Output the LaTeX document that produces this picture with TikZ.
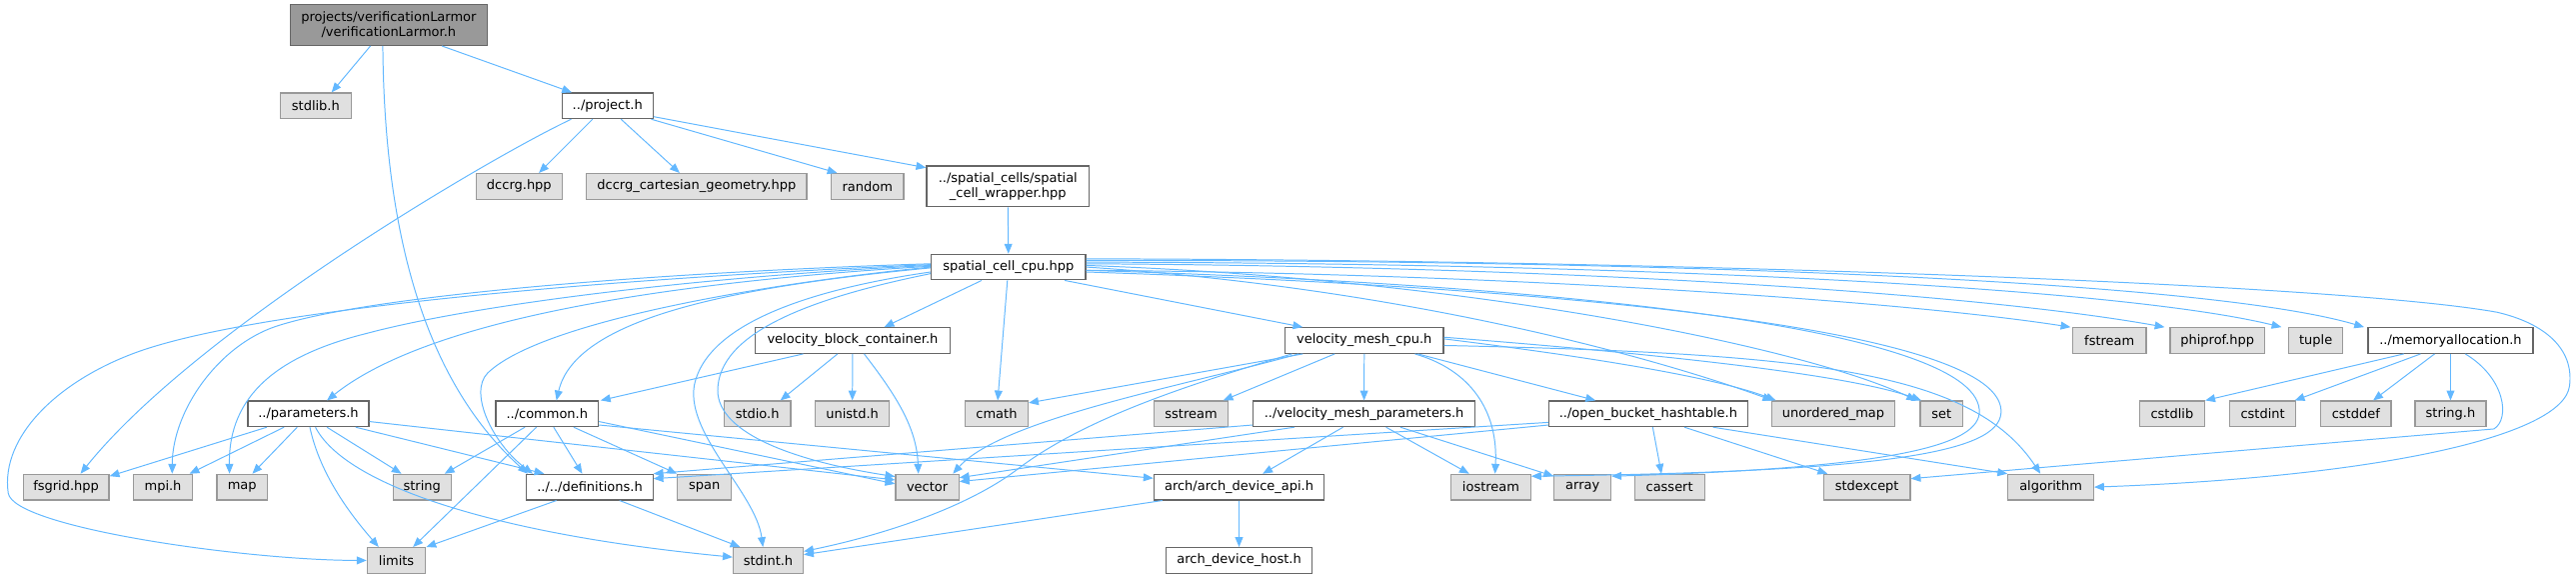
\documentclass[tikz,border=0pt]{standalone}
\usepackage{fontspec}
\setmainfont{DejaVu Sans}
\usetikzlibrary{arrows.meta}
\definecolor{edgec}{HTML}{63B8FF}
\definecolor{gfill}{HTML}{E0E0E0}
\definecolor{gdraw}{HTML}{999999}
\definecolor{wdraw}{HTML}{666666}
\definecolor{mfill}{HTML}{999999}
\tikzset{
  base/.style={rectangle, inner sep=0pt, line width=0.7pt, minimum height=15.6pt,
    font=\fontsize{7.9}{9.1}\selectfont, align=center},
  gn/.style={base, draw=gdraw, fill=gfill},
  wn/.style={base, draw=wdraw, fill=white},
  mn/.style={base, draw=wdraw, fill=mfill},
  two/.style={minimum height=24.8pt},
  edg/.style={draw=edgec, line width=0.6pt, -{Triangle[length=6pt,width=4.8pt]}, fill=none},
}
\begin{document}
\begin{tikzpicture}[x=1pt,y=1pt]
\useasboundingbox (0,0) rectangle (1568,-352);
% row 0
\node[mn, two, minimum width=120pt] (main) at (236.6,-15.2) {projects/verificationLarmor\\/verificationLarmor.h};
% row 1
\node[gn, minimum width=43.4pt] (stdlib) at (192.2,-64.4) {stdlib.h};
\node[wn, minimum width=55.5pt] (project) at (369.8,-64.4) {../project.h};
% row 2
\node[gn, minimum width=52pt] (dccrg) at (316,-113.4) {dccrg.hpp};
\node[gn, minimum width=134pt] (dccrgcart) at (424,-113.4) {dccrg\_cartesian\_geometry.hpp};
\node[gn, minimum width=44pt] (random) at (528,-113.4) {random};
\node[wn, two, minimum width=99pt] (wrapper) at (613.5,-113.4) {../spatial\_cells/spatial\\\_cell\_wrapper.hpp};
% row 3
\node[wn, minimum width=94pt] (scpu) at (613.8,-162.5) {spatial\_cell\_cpu.hpp};
% row 4
\node[wn, minimum width=118.7pt] (vbc) at (519,-207.2) {velocity\_block\_container.h};
\node[wn, minimum width=96.4pt] (vmcpu) at (830.4,-207.2) {velocity\_mesh\_cpu.h};
\node[gn, minimum width=44.6pt] (fstream) at (1284,-207.2) {fstream};
\node[gn, minimum width=57.5pt] (phiprof) at (1349.7,-207.2) {phiprof.hpp};
\node[gn, minimum width=33pt] (tuple) at (1409.6,-207.2) {tuple};
\node[wn, minimum width=100.4pt] (memalloc) at (1491.6,-207.2) {../memoryallocation.h};
% row 5
\node[wn, minimum width=73.6pt] (params) at (187.7,-251.8) {../parameters.h};
\node[wn, minimum width=62.5pt] (common) at (333,-251.8) {../common.h};
\node[gn, minimum width=40.5pt] (stdio) at (461,-251.8) {stdio.h};
\node[gn, minimum width=45.1pt] (unistd) at (518.8,-251.8) {unistd.h};
\node[gn, minimum width=38.4pt] (cmath) at (606.6,-251.8) {cmath};
\node[gn, minimum width=45.4pt] (sstream) at (725,-251.8) {sstream};
\node[wn, minimum width=135.1pt] (vmparams) at (830.3,-251.8) {../velocity\_mesh\_parameters.h};
\node[wn, minimum width=120.8pt] (obh) at (1003.3,-251.8) {../open\_bucket\_hashtable.h};
\node[gn, minimum width=75.2pt] (umap) at (1115.9,-251.8) {unordered\_map};
\node[gn, minimum width=25.9pt] (set) at (1181.8,-251.8) {set};
\node[gn, minimum width=39.8pt] (cstdlib) at (1322.1,-251.8) {cstdlib};
\node[gn, minimum width=40.5pt] (cstdint) at (1377.3,-251.8) {cstdint};
\node[gn, minimum width=42.9pt] (cstddef) at (1434,-251.8) {cstddef};
\node[gn, minimum width=43.2pt] (stringh) at (1491.6,-251.8) {string.h};
% row 6
\node[gn, minimum width=52.3pt] (fsgrid) at (40.2,-296.4) {fsgrid.hpp};
\node[gn, minimum width=35.6pt] (mpi) at (99.2,-296.4) {mpi.h};
\node[gn, minimum width=30.7pt] (map) at (147.4,-296.4) {map};
\node[gn, minimum width=35.3pt] (string) at (256.9,-296.4) {string};
\node[wn, minimum width=76.8pt] (defs) at (359,-296.4) {../../definitions.h};
\node[gn, minimum width=32.8pt] (span) at (428.8,-296.4) {span};
\node[gn, minimum width=38.5pt] (vector) at (564.4,-296.4) {vector};
\node[wn, minimum width=103.7pt] (archapi) at (754.2,-296.4) {arch/arch\_device\_api.h};
\node[gn, minimum width=48.5pt] (iostream) at (907.5,-296.4) {iostream};
\node[gn, minimum width=34.6pt] (array) at (963.3,-296.4) {array};
\node[gn, minimum width=42.6pt] (cassert) at (1016.2,-296.4) {cassert};
\node[gn, minimum width=52.7pt] (stdexcept) at (1136.4,-296.4) {stdexcept};
\node[gn, minimum width=52.1pt] (algorithm) at (1248.3,-296.4) {algorithm};
% row 7
\node[gn, minimum width=35.6pt] (limits) at (241.3,-341) {limits};
\node[gn, minimum width=42.6pt] (stdint) at (467.6,-341) {stdint.h};
\node[wn, minimum width=89.1pt] (archhost) at (754.2,-341) {arch\_device\_host.h};

% main
\draw[edg] ([xshift=-11.1pt]main.south) -- ([xshift=9.6pt]stdlib.north);
\draw[edg] ([xshift=32.3pt]main.south) -- ([xshift=-21.7pt]project.north);
\draw[edg] ([xshift=-3.6pt]main.south) .. controls (234,-150) and (262,-235) .. ([xshift=1pt]defs.north west);
% project
\draw[edg] ([xshift=6pt]project.south west) .. controls (300,-95) and (120,-200) .. ([xshift=8.8pt]fsgrid.north);
\draw[edg] ([xshift=-9.1pt]project.south) -- ([xshift=12pt]dccrg.north);
\draw[edg] ([xshift=8.2pt]project.south) -- ([xshift=-10.3pt]dccrgcart.north);
\draw[edg] ([xshift=-1.5pt]project.south east) -- ([xshift=-18.4pt]random.north);
\draw[edg] ([yshift=-6.6pt]project.east) -- ([yshift=-1.4pt]wrapper.north west);
\draw[edg] (wrapper.south) -- (scpu.north);
% spatial_cell_cpu, left side
\draw[edg] ([yshift=1.5pt]scpu.west) .. controls (400,-168) and (170,-185) .. (87,-213) .. controls (37,-230) and (0,-265) .. (5,-300) .. controls (8,-321) and (150,-341) .. (limits.west);
\draw[edg] ([yshift=2pt]scpu.west) .. controls (420,-165) and (230,-178) .. (167.6,-198.7) .. controls (132.6,-210.7) and (105,-250) .. ([xshift=5.6pt]mpi.north);
\draw[edg] ([yshift=1pt]scpu.west) .. controls (430,-168) and (290,-185) .. (223.5,-202.8) .. controls (170,-216) and (139,-240) .. ([xshift=-7.7pt]map.north);
\draw[edg] ([yshift=0.5pt]scpu.west) .. controls (400,-172) and (260,-195) .. ([xshift=11.3pt]params.north);
\draw[edg] (scpu.west) .. controls (470,-172) and (330,-195) .. (296.8,-227) .. controls (285,-239) and (300,-270) .. ([xshift=4pt]defs.north west);
\draw[edg] ([yshift=-0.5pt]scpu.west) .. controls (440,-175) and (350,-195) .. ([xshift=5.7pt]common.north);
\draw[edg] ([yshift=-3pt]scpu.west) .. controls (500,-175) and (430,-195) .. (422.5,-235) .. controls (418,-265) and (460,-300) .. ([xshift=-3.2pt]stdint.north);
\draw[edg] ([yshift=-4pt]scpu.west) .. controls (500,-180) and (440,-200) .. (437,-235) .. controls (434,-262) and (480,-280) .. ([yshift=6.4pt]vector.west);
% spatial_cell_cpu, right side
\draw[edg] ([yshift=-2pt]scpu.east) .. controls (900,-166) and (1150,-182) .. ([xshift=-1pt]fstream.north west);
\draw[edg] ([yshift=2pt]scpu.east) .. controls (950,-162) and (1200,-178) .. ([xshift=-3pt]phiprof.north west);
\draw[edg] ([yshift=3pt]scpu.east) .. controls (1000,-160) and (1290,-175) .. ([xshift=-4pt]tuple.north west);
\draw[edg] ([yshift=4pt]scpu.east) .. controls (1000,-158) and (1340,-170) .. ([xshift=-2pt]memalloc.north west);
\draw[edg] ([yshift=5pt]scpu.east) .. controls (1000,-158) and (1420,-172) .. (1520,-190) .. controls (1550,-197) and (1567,-213) .. (1564,-235) .. controls (1560,-265) and (1450,-290) .. (algorithm.east);
\draw[edg] (scpu.east) .. controls (850,-175) and (1000,-215) .. ([xshift=1pt]umap.north west);
\draw[edg] ([yshift=1pt]scpu.east) .. controls (900,-170) and (1100,-212) .. ([xshift=-2pt]set.north west);
\draw[edg] ([yshift=-3pt]scpu.east) .. controls (950,-175) and (1222,-200) .. (1218,-251.4) .. controls (1216,-275) and (1150,-287) .. ([yshift=-1.5pt]iostream.north east);
\draw[edg] ([yshift=-2pt]scpu.east) .. controls (950,-173) and (1208,-200) .. (1204.8,-251.4) .. controls (1203,-273) and (1140,-285) .. ([yshift=-1.5pt]array.north east);
\draw[edg] ([xshift=-16.3pt]scpu.south) -- ([xshift=19.2pt]vbc.north);
\draw[edg] ([xshift=-0.6pt]scpu.south) -- ([xshift=0.7pt]cmath.north);
\draw[edg] ([xshift=34.3pt]scpu.south) -- ([xshift=-37.4pt]vmcpu.north);
% velocity_mesh_cpu
\draw[edg] ([xshift=-37.4pt]vmcpu.south) -- ([yshift=-1.5pt]cmath.north east);
\draw[edg] ([xshift=-40pt]vmcpu.south) .. controls (720,-235) and (610,-255) .. ([xshift=15.6pt]vector.north);
\draw[edg] ([xshift=-44pt]vmcpu.south) .. controls (720,-235) and (660,-255) .. (620,-285) .. controls (590,-308) and (540,-325) .. ([yshift=5.5pt]stdint.east);
\draw[edg] ([xshift=-18pt]vmcpu.south) -- ([xshift=-3.5pt]sstream.north east);
\draw[edg] (vmcpu.south) -- (vmparams.north);
\draw[edg] ([xshift=30.8pt]vmcpu.south) .. controls (895,-225) and (912,-250) .. ([xshift=2.5pt]iostream.north);
\draw[edg] ([xshift=32.6pt]vmcpu.south) -- ([xshift=-32.1pt]obh.north);
\draw[edg] ([yshift=1pt]vmcpu.east) .. controls (950,-215) and (1040,-228) .. ([xshift=3pt]umap.north west);
\draw[edg] ([yshift=2pt]vmcpu.east) .. controls (980,-213) and (1120,-226) .. ([xshift=1pt]set.north west);
\draw[edg] ([yshift=-3pt]vmcpu.east) .. controls (1100,-215) and (1200,-225) .. ([xshift=-6.3pt]algorithm.north);
% velocity_block_container
\draw[edg] ([xshift=-30.1pt]vbc.south) -- ([xshift=1pt]common.north east);
\draw[edg] ([xshift=-9.2pt]vbc.south) -- ([xshift=14pt]stdio.north);
\draw[edg] (vbc.south) -- (unistd.north);
\draw[edg] ([xshift=7pt]vbc.south) .. controls (545,-240) and (558,-260) .. ([xshift=-5.4pt]vector.north);
% parameters
\draw[edg] ([xshift=-25.3pt]params.south) -- ([yshift=-1.5pt]fsgrid.north east);
\draw[edg] ([xshift=-14.8pt]params.south) -- ([xshift=-2pt]mpi.north east);
\draw[edg] ([xshift=-6.8pt]params.south) -- ([xshift=6.2pt]map.north);
\draw[edg] ([xshift=0.9pt]params.south) .. controls (195,-290) and (215,-315) .. ([xshift=-10.8pt]limits.north);
\draw[edg] ([xshift=4.3pt]params.south) .. controls (210,-295) and (300,-325) .. ([yshift=2pt]stdint.west);
\draw[edg] ([xshift=11.3pt]params.south) -- ([xshift=-12.5pt]string.north);
\draw[edg] ([xshift=28.8pt]params.south) -- ([xshift=11pt]defs.north west);
\draw[edg] ([yshift=-4.7pt]params.east) -- ([yshift=4.4pt]vector.west);
% common
\draw[edg] ([xshift=-13.5pt]common.south) -- ([xshift=13.7pt]string.north);
\draw[edg] ([xshift=-6.5pt]common.south) -- ([xshift=10.1pt]limits.north);
\draw[edg] ([xshift=4pt]common.south) -- ([xshift=-4.6pt]defs.north);
\draw[edg] ([xshift=16.2pt]common.south) -- (span.north west);
\draw[edg] ([yshift=-4.7pt]common.east) -- ([yshift=2pt]vector.west);
\draw[edg] ([yshift=-6.8pt]common.east) -- ([yshift=5.4pt]archapi.west);
% definitions
\draw[edg] ([xshift=-20.3pt]defs.south) -- (limits.north east);
\draw[edg] ([xshift=18.1pt]defs.south) -- ([xshift=-17.1pt]stdint.north);
% velocity_mesh_parameters
\draw[edg] ([yshift=-6.8pt]vmparams.west) -- (defs.north east);
\draw[edg] ([xshift=-42.5pt]vmparams.south) -- ([yshift=-2.4pt]vector.north east);
\draw[edg] ([xshift=-12.8pt]vmparams.south) -- ([xshift=14.4pt]archapi.north);
\draw[edg] ([xshift=13.4pt]vmparams.south) -- ([xshift=-13.2pt]iostream.north);
\draw[edg] ([xshift=22.1pt]vmparams.south) -- ([yshift=-1.5pt]array.north west);
% open_bucket_hashtable
\draw[edg] ([yshift=-6.8pt]obh.west) -- ([yshift=3.4pt]vector.east);
\draw[edg] ([yshift=-5.2pt]obh.west) -- ([yshift=-3pt]defs.north east);
\draw[edg] ([xshift=2.7pt]obh.south) -- ([xshift=-4.9pt]cassert.north);
\draw[edg] ([xshift=22pt]obh.south) -- ([xshift=2.7pt]stdexcept.north west);
\draw[edg] ([xshift=39.4pt]obh.south) -- (algorithm.north west);
% arch_device_api
\draw[edg] (archapi.south) -- (archhost.north);
\draw[edg] ([xshift=-46.7pt]archapi.south) -- ([yshift=3.5pt]stdint.east);
% memoryallocation
\draw[edg] ([xshift=-28.4pt]memalloc.south) -- (cstdlib.north east);
\draw[edg] ([xshift=-18.2pt]memalloc.south) -- ([xshift=19.5pt]cstdint.north);
\draw[edg] ([xshift=-9.7pt]memalloc.south) -- ([xshift=10.5pt]cstddef.north);
\draw[edg] (memalloc.south) -- (stringh.north);
\draw[edg] ([xshift=9pt]memalloc.south) .. controls (1525,-230) and (1528,-255) .. (1518,-261) -- ([yshift=-3pt]stdexcept.north east);
\end{tikzpicture}
\end{document}
